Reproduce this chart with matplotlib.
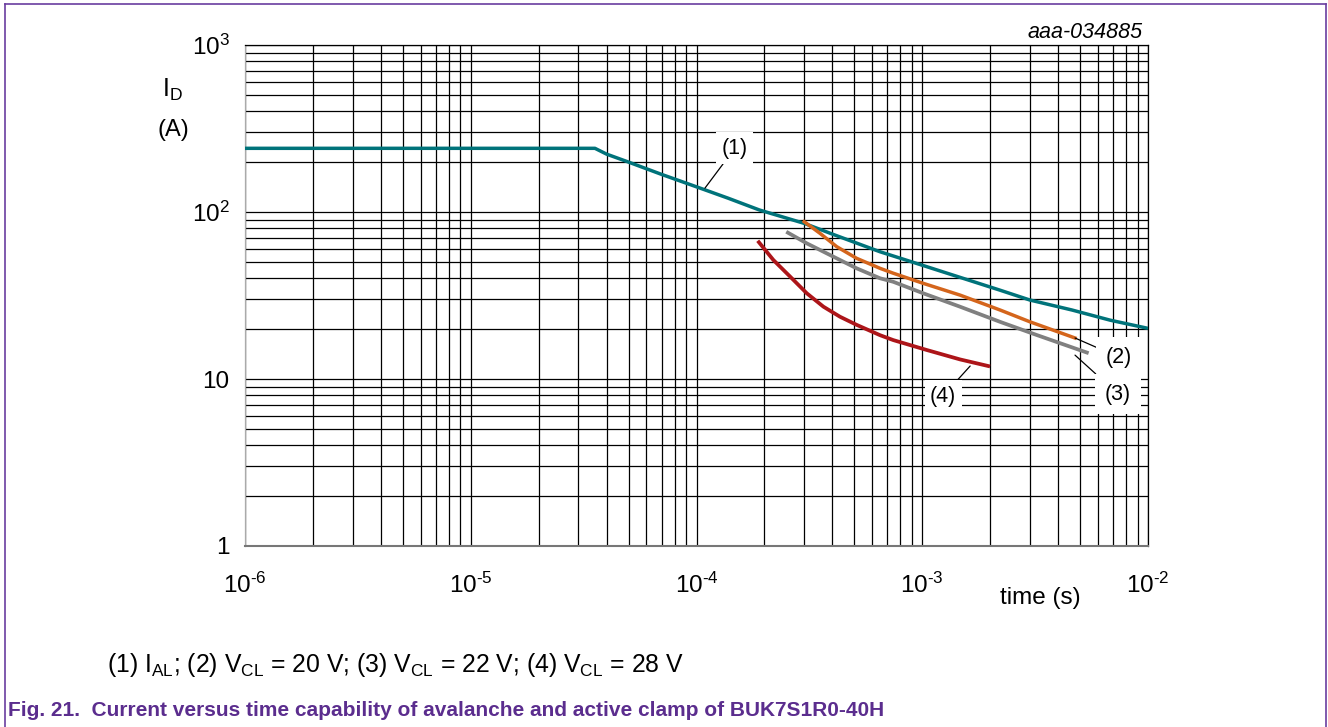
import matplotlib
matplotlib.use("Agg")
import matplotlib.pyplot as plt
from matplotlib.ticker import LogLocator, FixedFormatter, FixedLocator, NullFormatter
from matplotlib.lines import Line2D

plt.rcParams['font.family'] = ['Liberation Sans', 'DejaVu Sans']
plt.rcParams['mathtext.fontset'] = 'custom'
plt.rcParams['mathtext.rm'] = 'Liberation Sans'
plt.rcParams['mathtext.it'] = 'Liberation Sans:italic'
plt.rcParams['mathtext.bf'] = 'Liberation Sans:bold'
plt.rcParams['mathtext.default'] = 'regular'

# ---- data ----
c1_t = [1e-6, 3.55e-5, 4.0e-5, 5.0e-5, 7.0e-5, 1.0e-4, 1.38e-4, 1.9e-4, 3.0e-4,
        4.1e-4, 6.5e-4, 1.0e-3, 2.2e-3, 3.0e-3, 4.6e-3, 6.8e-3, 1e-2]
c1_I = [240.6, 240.6, 222, 199, 168, 141.5, 121, 102.8, 85.5,
        72.8, 57.8, 48, 34.1, 29.7, 25.9, 22.5, 20.1]

c2_t = [3.0e-4, 3.52e-4, 4.18e-4, 5.12e-4, 6.5e-4, 7.44e-4, 1.01e-3, 1.47e-3,
        2.21e-3, 3.0e-3, 4.75e-3]
c2_I = [87.5, 74.6, 62.0, 52.8, 46.0, 43.0, 37.4, 31.8,
        25.9, 22.0, 17.6]

c3_t = [2.54e-4, 3.08e-4, 4.04e-4, 5.12e-4, 6.5e-4, 7.44e-4, 1.01e-3, 1.47e-3,
        2.21e-3, 3.23e-3, 5.36e-3]
c3_I = [75.2, 64.9, 54.0, 46.0, 40.1, 38.2, 32.6, 27.1,
        22.0, 18.3, 14.4]

c4_t = [1.89e-4, 2.19e-4, 2.6e-4, 3.08e-4, 3.65e-4, 4.32e-4, 5.12e-4, 6.5e-4,
        7.44e-4, 1.05e-3, 1.47e-3, 1.96e-3]
c4_I = [65.9, 51.6, 41.0, 32.6, 27.1, 23.6, 21.1, 18.3,
        17.1, 14.9, 13.1, 11.96]

x_ticks = [1e-6, 1e-5, 1e-4, 1e-3, 1e-2]
x_labels = [r'$10^{\text{-}6}$', r'$10^{\text{-}5}$', r'$10^{\text{-}4}$',
            r'$10^{\text{-}3}$', r'$10^{\text{-}2}$']
y_ticks = [1, 10, 100, 1000]
y_labels = ['1', '10', r'$10^{2}$', r'$10^{3}$']

W, H = 1328, 727
fig = plt.figure(figsize=(W / 100, H / 100), dpi=100)
fig.patch.set_facecolor('white')

def fx(px):
    return px / W

def fy(py):
    return 1 - py / H

ax = fig.add_axes([fx(245), fy(546), fx(1148) - fx(245), fy(45) - fy(546)])
ax.set_xscale('log')
ax.set_yscale('log')
ax.set_xlim(1e-6, 1e-2)
ax.set_ylim(1, 1000)

ax.xaxis.set_major_locator(FixedLocator(x_ticks))
ax.xaxis.set_major_formatter(FixedFormatter(x_labels))
ax.yaxis.set_major_locator(FixedLocator(y_ticks))
ax.yaxis.set_major_formatter(FixedFormatter(y_labels))
ax.xaxis.set_minor_locator(LogLocator(base=10, subs=range(2, 10), numticks=20))
ax.yaxis.set_minor_locator(LogLocator(base=10, subs=range(2, 10), numticks=20))
ax.xaxis.set_minor_formatter(NullFormatter())
ax.yaxis.set_minor_formatter(NullFormatter())
ax.tick_params(which='both', length=0)
ax.tick_params(axis='x', which='major', pad=19, labelsize=17.5)
ax.tick_params(axis='y', which='major', pad=11, labelsize=17.5)
ax.grid(True, which='both', color='black', linewidth=0.9)
for s in ax.spines.values():
    s.set_color('black')
    s.set_linewidth(0.9)
ax.spines['left'].set_color('#aaaaaa')
ax.spines['bottom'].set_color('#777777')
ax.spines['bottom'].set_linewidth(1.5)
ax.set_axisbelow(True)

ax.plot(c1_t, c1_I, color='#00737a', lw=2.5, solid_joinstyle='round', solid_capstyle='butt', zorder=3)
ax.plot(c2_t, c2_I, color='#d4651c', lw=2.5, solid_joinstyle='round', zorder=4)
ax.plot(c3_t, c3_I, color='#808080', lw=2.7, solid_joinstyle='round', zorder=3)
ax.plot(c4_t, c4_I, color='#ad1519', lw=2.7, solid_joinstyle='round', zorder=3)

bbox = dict(boxstyle='square,pad=0.25', fc='white', ec='none')
bbox2 = dict(boxstyle='square,pad=0.45', fc='white', ec='none')
arrow = dict(arrowstyle='-', color='black', lw=0.9, shrinkA=0, shrinkB=0)
fs_ann = 15.5
ax.annotate('(1)', xy=(1.09e-4, 139), xytext=(1.48e-4, 241.5), ha='center', va='center',
            fontsize=fs_ann, bbox=bbox, arrowprops=arrow, zorder=5)
ax.annotate('(2)', xy=(4.75e-3, 17.6), xytext=(7.44e-3, 13.5), ha='center', va='center',
            fontsize=fs_ann, bbox=bbox2, arrowprops=arrow, zorder=5)
ax.annotate('(3)', xy=(4.75e-3, 13.9), xytext=(7.36e-3, 8.13), ha='center', va='center',
            fontsize=fs_ann, bbox=bbox2, arrowprops=arrow, zorder=5)
ax.annotate('(4)', xy=(1.63e-3, 11.96), xytext=(1.236e-3, 7.91), ha='center', va='center',
            fontsize=fs_ann, bbox=bbox, arrowprops=arrow, zorder=5)

# axis labels
fig.text(fx(172), fy(90), r'$I_D$', fontsize=18, ha='center', va='center')
fig.text(fx(173), fy(130), '(A)', fontsize=17, ha='center', va='center')
fig.text(fx(1040), fy(598), 'time (s)', fontsize=17.5, ha='center', va='center')
fig.text(fx(1143), fy(32), 'aaa-034885', fontsize=15.5, style='italic', ha='right', va='center')

# caption and title
fig.text(fx(107), fy(665),
         r'(1) I$_{AL}$; (2) V$_{CL}$ = 20 V; (3) V$_{CL}$ = 22 V; (4) V$_{CL}$ = 28 V',
         fontsize=17.8, ha='left', va='center')
fig.text(fx(8), fy(710),
         'Fig. 21.  Current versus time capability of avalanche and active clamp of BUK7S1R0-40H',
         fontsize=15, fontweight='bold', color='#5b2d8e', ha='left', va='center')

# border
bc = '#6a3d9f'
fig.add_artist(Line2D([fx(5), fx(5)], [0, fy(4)], color=bc, lw=1.2))
fig.add_artist(Line2D([fx(5), fx(1326)], [fy(4), fy(4)], color=bc, lw=1.2))
fig.add_artist(Line2D([fx(1326), fx(1326)], [0, fy(4)], color=bc, lw=1.2))

fig.savefig('out.png', dpi=100)
